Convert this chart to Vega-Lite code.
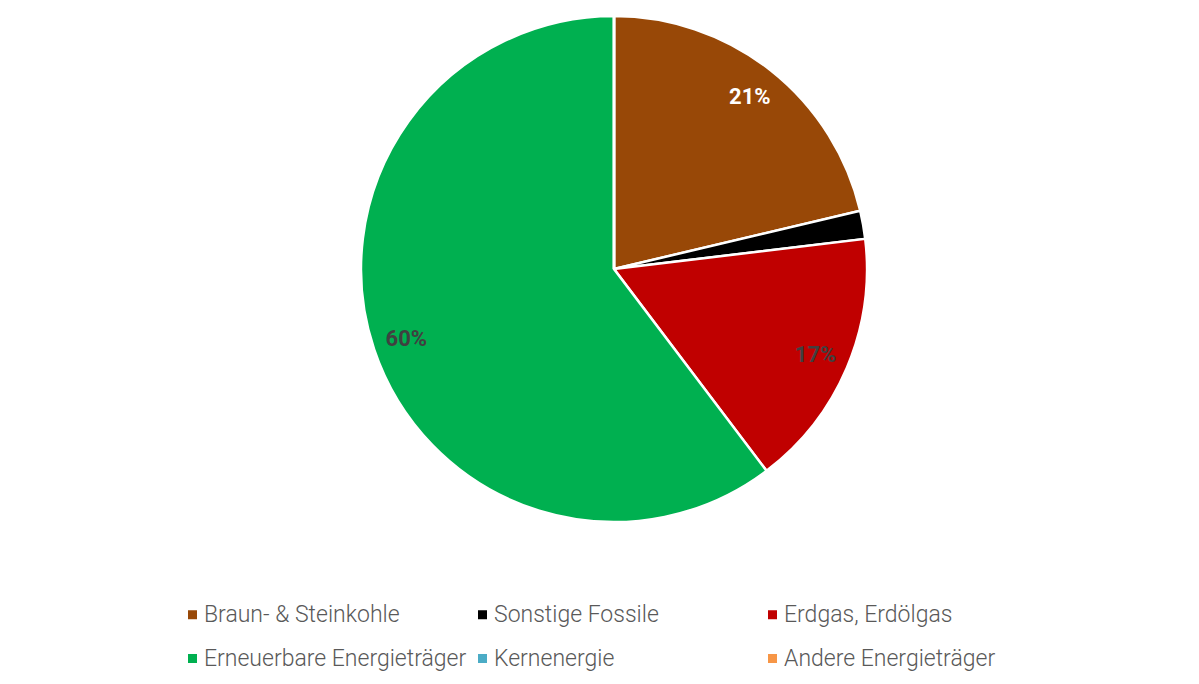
{
  "$schema": "https://vega.github.io/schema/vega-lite/v6.json",
  "width": 1170,
  "height": 506,
  "autosize": {"type": "none"},
  "padding": {"left": 29, "top": 16, "right": 0, "bottom": 162},
  "background": "white",
  "config": {"view": {"stroke": null}},
  "data": {
    "values": [
      {"idx": 1, "source": "Braun- & Steinkohle", "share": 0.213},
      {"idx": 2, "source": "Sonstige Fossile", "share": 0.018},
      {"idx": 3, "source": "Erdgas, Erdölgas", "share": 0.166},
      {"idx": 4, "source": "Erneuerbare Energieträger", "share": 0.603},
      {"idx": 5, "source": "Kernenergie", "share": 0},
      {"idx": 6, "source": "Andere Energieträger", "share": 0}
    ]
  },
  "encoding": {
    "theta": {"field": "share", "type": "quantitative", "stack": true},
    "order": {"field": "idx", "type": "quantitative"}
  },
  "layer": [
    {
      "mark": {"type": "arc", "outerRadius": 253, "stroke": "white", "strokeWidth": 2.5},
      "encoding": {
        "color": {
          "field": "source",
          "type": "nominal",
          "scale": {
            "domain": ["Braun- & Steinkohle", "Sonstige Fossile", "Erdgas, Erdölgas", "Erneuerbare Energieträger", "Kernenergie", "Andere Energieträger"],
            "range": ["#984807", "#000000", "#C00000", "#00B050", "#4BACC6", "#F79646"]
          },
          "legend": {
            "title": null,
            "orient": "none",
            "legendX": 152,
            "legendY": 587,
            "direction": "horizontal",
            "columns": 3,
            "gridAlign": "all",
            "symbolType": "square",
            "symbolSize": 81,
            "symbolStrokeWidth": 0,
            "labelFont": "Roboto",
            "labelFontSize": 23,
            "labelFontWeight": 300,
            "labelColor": "#595959",
            "labelOffset": 0,
            "labelLimit": 400,
            "columnPadding": 4,
            "rowPadding": 20
          }
        }
      }
    },
    {
      "mark": {"type": "text", "radius": 219, "font": "Roboto", "fontWeight": "bold", "fontSize": 22},
      "encoding": {
        "text": {"field": "share", "type": "quantitative", "format": ".0%", "condition": {"test": "datum.share < 0.05", "value": ""}},
        "color": {"condition": {"test": "datum.idx == 1", "value": "white"}, "value": "#404040"}
      }
    }
  ]
}
